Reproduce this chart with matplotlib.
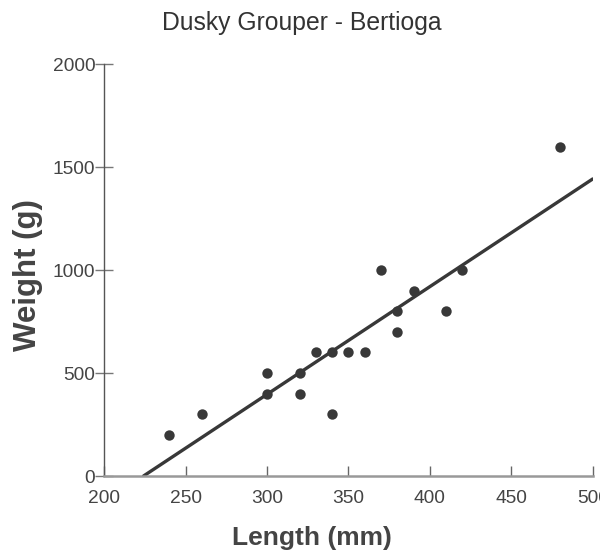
import numpy as np
import matplotlib
matplotlib.use("Agg")
import matplotlib.pyplot as plt

plt.rcParams['font.family'] = ['Liberation Sans', 'DejaVu Sans']

length_mm = [240, 260, 300, 300, 320, 320, 330, 340, 340, 350, 360, 370, 380, 380, 390, 410, 420, 480]
weight_g = [200, 300, 500, 400, 500, 400, 600, 600, 300, 600, 600, 1000, 800, 700, 900, 800, 1000, 1600]
x_ticks = [200, 250, 300, 350, 400, 450, 500]
y_ticks = [0, 500, 1000, 1500, 2000]

fig = plt.figure(figsize=(6.0, 5.51), dpi=100)
ax = fig.add_axes([0.1738, 0.1361, 0.9878 - 0.1738, 0.8833 - 0.1361])

ax.scatter(length_mm, weight_g, s=56, color='#383838', zorder=3, linewidths=0)

slope, intercept = np.polyfit(length_mm, weight_g, 1)
x0 = -intercept / slope
xs = np.array([x0, 500])
ax.plot(xs, slope * xs + intercept, color='#383838', lw=2.4, solid_capstyle='round', zorder=2)

ax.set_xlim(200, 500)
ax.set_ylim(0, 2000)
ax.set_xticks(x_ticks)
ax.set_yticks(y_ticks)
ax.set_xticklabels([str(v) for v in x_ticks])
ax.set_yticklabels([str(v) for v in y_ticks])

for s in ['top', 'right']:
    ax.spines[s].set_visible(False)
ax.spines['left'].set_color('#555555')
ax.spines['left'].set_linewidth(1.0)
ax.spines['bottom'].set_color('#999999')
ax.spines['bottom'].set_linewidth(1.8)

ax.tick_params(axis='y', direction='inout', length=13, width=1.0, color='#777777',
               labelsize=13.8, labelcolor='#444444', pad=0)
ax.tick_params(axis='x', direction='in', length=7.5, width=1.0, color='#666666',
               labelsize=13.8, labelcolor='#444444', pad=10)

fig.text(302 / 600, 1 - 23 / 551, 'Dusky Grouper - Bertioga', fontsize=17.8, color='#333333',
         ha='center', va='center')

fig.text(312 / 600, 1 - 538 / 551, 'Length (mm)', fontsize=19, fontweight='bold', color='#444444',
         ha='center', va='center')
fig.text(28 / 600, 1 - 275 / 551, 'Weight (g)', fontsize=22.5, fontweight='bold', color='#444444',
         ha='center', va='center', rotation=90)

fig.savefig('out.png', dpi=100)
